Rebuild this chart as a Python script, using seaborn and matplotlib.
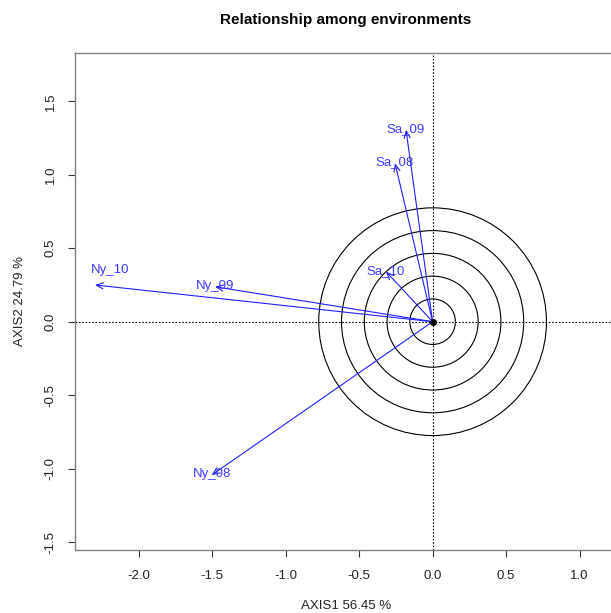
import numpy as np
import pandas as pd
import matplotlib
matplotlib.use("Agg")
import matplotlib.pyplot as plt
import seaborn as sns
from matplotlib.patches import Circle

# ---- data ----
envs = ["Sa_09", "Sa_08", "Sa_10", "Ny_10", "Ny_09", "Ny_08"]
pc1 = [-0.181, -0.256, -0.317, -2.298, -1.481, -1.504]
pc2 = [1.306, 1.079, 0.341, 0.250, 0.238, -1.044]
circle_radii = [0.155, 0.31, 0.465, 0.62, 0.775]
x_ticks = [-2.0, -1.5, -1.0, -0.5, 0.0, 0.5, 1.0]
y_ticks = [-1.5, -1.0, -0.5, 0.0, 0.5, 1.0, 1.5]
title = "Relationship among environments"
xlab = "AXIS1 56.45 %"
ylab = "AXIS2 24.79 %"

df = pd.DataFrame({"env": envs, "pc1": pc1, "pc2": pc2})

sns.set_style("white")
plt.rcParams["font.family"] = ["Liberation Sans", "DejaVu Sans"]

W, H = 611, 613
fig = plt.figure(figsize=(W / 100, H / 100), dpi=100)
left_px, right_px, top_px, bot_px = 74.7, 617.0, 52.7, 549.7
ax = fig.add_axes([left_px / W, 1 - bot_px / H,
                   (right_px - left_px) / W, (bot_px - top_px) / H])

ax.set_xlim(-2.436, 1.255)
ax.set_ylim(-1.552, 1.831)

# reference lines
ax.axhline(0, color="black", ls=(0, (1.5, 1.5)), lw=0.8, zorder=1)
ax.axvline(0, color="black", ls=(0, (1.5, 1.5)), lw=0.8, zorder=1)

# concentric circles
for r in circle_radii:
    ax.add_patch(Circle((0, 0), r, fill=False, ec="black", lw=0.8, zorder=2))

# arrows and labels
label_offsets = {"Ny_10": (11, 11)}
for _, row in df.iterrows():
    ax.annotate("", xy=(row.pc1, row.pc2), xytext=(0, 0),
                arrowprops=dict(arrowstyle="->,head_length=0.5,head_width=0.22",
                                color="#2020ff", lw=0.8, shrinkA=0, shrinkB=0,
                                mutation_scale=10),
                zorder=3)
    off = label_offsets.get(row.env, (0, 0.5))
    ax.annotate(row.env, xy=(row.pc1, row.pc2), xytext=off,
                textcoords="offset points", ha="center", va="center",
                color="#3c3cff", fontsize=9.5, zorder=4)

sns.scatterplot(x=[0], y=[0], color="black", s=22, ax=ax, zorder=5,
                edgecolor="black", legend=False)

ax.set_xticks(x_ticks)
ax.set_xticklabels([f"{t:.1f}" for t in x_ticks])
ax.set_yticks(y_ticks)
ax.set_yticklabels([f"{t:.1f}" for t in y_ticks], rotation=90, va="center")
ax.tick_params(axis="both", direction="out", length=5, width=0.8,
               color="#333333", labelsize=9.5, labelcolor="#222222",
               bottom=True, left=True)
ax.tick_params(axis="x", pad=9.5)
ax.tick_params(axis="y", pad=8)
for s in ax.spines.values():
    s.set_color("#808080")
    s.set_linewidth(1.0)
ax.set_xlabel("")
ax.set_ylabel("")

cx = (left_px + right_px) / 2 / W
fig.text(cx, 1 - 20 / H, title, ha="center", va="center",
         fontsize=11, fontweight="bold", color="black")
fig.text(cx, 1 - 606 / H, xlab, ha="center", va="center",
         fontsize=9.5, color="#222222")
fig.text(20 / W, 1 - (top_px + bot_px) / 2 / H, ylab, ha="center",
         va="center", rotation=90, fontsize=9.5, color="#222222")

fig.savefig("out.png", dpi=100)
